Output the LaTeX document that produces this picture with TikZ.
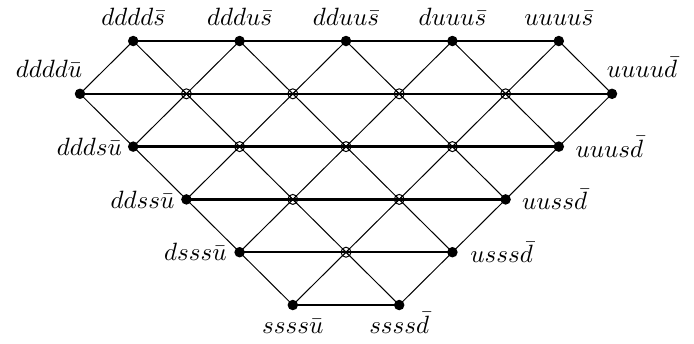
\documentclass[tikz,border=0pt]{standalone}
\tikzset{
  site/.style={circle,fill=black,inner sep=0pt,minimum size=4.2pt},
  twofold/.style={circle,draw,line width=0.4pt,inner sep=0pt,minimum size=4pt,
    path picture={\draw[line width=0.4pt]
      (path picture bounding box.north west)--(path picture bounding box.south east)
      (path picture bounding box.north east)--(path picture bounding box.south west);}},
  rung/.style={line width=1pt},
  leg/.style={line width=0.4pt},
  lab/.style={inner sep=0pt},
}
\begin{document}
\begin{tikzpicture}
\useasboundingbox (0,0) rectangle (277.6pt,-137.2pt);
\begin{scope}[shift={(32pt,-16.4pt)},x=21.28pt,y=-21.12pt]
  % lattice points p-row-column
  \foreach \c in {1,3,5,7,9} \coordinate (p-0-\c) at (\c,0);
  \foreach \c in {0,2,4,6,8,10} \coordinate (p-1-\c) at (\c,1);
  \foreach \c in {1,3,5,7,9} \coordinate (p-2-\c) at (\c,2);
  \foreach \c in {2,4,6,8} \coordinate (p-3-\c) at (\c,3);
  \foreach \c in {3,5,7} \coordinate (p-4-\c) at (\c,4);
  \foreach \c in {4,6} \coordinate (p-5-\c) at (\c,5);
\end{scope}

% diagonal legs, down to the right
\draw[leg] (p-0-1) -- (p-1-2) -- (p-2-3) -- (p-3-4) -- (p-4-5) -- (p-5-6);
\draw[leg] (p-1-0) -- (p-2-1) -- (p-3-2) -- (p-4-3) -- (p-5-4);
\draw[leg] (p-0-3) -- (p-1-4) -- (p-2-5) -- (p-3-6) -- (p-4-7);
\draw[leg] (p-0-5) -- (p-1-6) -- (p-2-7) -- (p-3-8);
\draw[leg] (p-0-7) -- (p-1-8) -- (p-2-9);
\draw[leg] (p-0-9) -- (p-1-10);
% diagonal legs, down to the left
\draw[leg] (p-0-9) -- (p-1-8) -- (p-2-7) -- (p-3-6) -- (p-4-5) -- (p-5-4);
\draw[leg] (p-1-10) -- (p-2-9) -- (p-3-8) -- (p-4-7) -- (p-5-6);
\draw[leg] (p-0-7) -- (p-1-6) -- (p-2-5) -- (p-3-4) -- (p-4-3);
\draw[leg] (p-0-5) -- (p-1-4) -- (p-2-3) -- (p-3-2);
\draw[leg] (p-0-3) -- (p-1-2) -- (p-2-1);
\draw[leg] (p-0-1) -- (p-1-0);

% horizontal rungs
\draw[rung] (p-0-1) -- (p-0-9);
\draw[rung] (p-1-0) -- (p-1-10);
\draw[rung] (p-2-1) -- (p-2-9);
\draw[rung] (p-3-2) -- (p-3-8);
\draw[rung] (p-4-3) -- (p-4-7);
\draw[rung] (p-5-4) -- (p-5-6);

% states
\foreach \p in {0-1,0-3,0-5,0-7,0-9,1-0,1-10,2-1,2-9,3-2,3-8,4-3,4-7,5-4,5-6}
  \node[site] (s-\p) at (p-\p) {};
\foreach \p in {1-2,1-4,1-6,1-8,2-3,2-5,2-7,3-4,3-6,4-5}
  \node[twofold] (x-\p) at (p-\p) {};

% labels
\node[lab,anchor=base] at ([yshift=6.4pt]s-0-1) {$dddd\bar s$};
\node[lab,anchor=base] at ([yshift=6.4pt]s-0-3) {$dddu\bar s$};
\node[lab,anchor=base] at ([yshift=6.4pt]s-0-5) {$dduu\bar s$};
\node[lab,anchor=base] at ([yshift=6.4pt]s-0-7) {$duuu\bar s$};
\node[lab,anchor=base] at ([yshift=6.4pt]s-0-9) {$uuuu\bar s$};
\node[lab,anchor=base] at ([xshift=-12.4pt,yshift=6.4pt]s-1-0) {$dddd\bar u$};
\node[lab,anchor=base] at ([xshift=12pt,yshift=6.4pt]s-1-10) {$uuuu\bar d$};
\node[lab,anchor=east] at ([xshift=-4.3pt]s-2-1) {$ddds\bar u$};
\node[lab,anchor=west] at ([xshift=6.5pt]s-2-9) {$uuus\bar d$};
\node[lab,anchor=east] at ([xshift=-4.6pt]s-3-2) {$ddss\bar u$};
\node[lab,anchor=west] at ([xshift=6.4pt]s-3-8) {$uuss\bar d$};
\node[lab,anchor=east] at ([xshift=-5pt]s-4-3) {$dsss\bar u$};
\node[lab,anchor=west] at ([xshift=7pt]s-4-7) {$usss\bar d$};
\node[lab,anchor=base] at ([yshift=-11.3pt]s-5-4) {$ssss\bar u$};
\node[lab,anchor=base] at ([yshift=-11.3pt]s-5-6) {$ssss\bar d$};
\end{tikzpicture}
\end{document}
